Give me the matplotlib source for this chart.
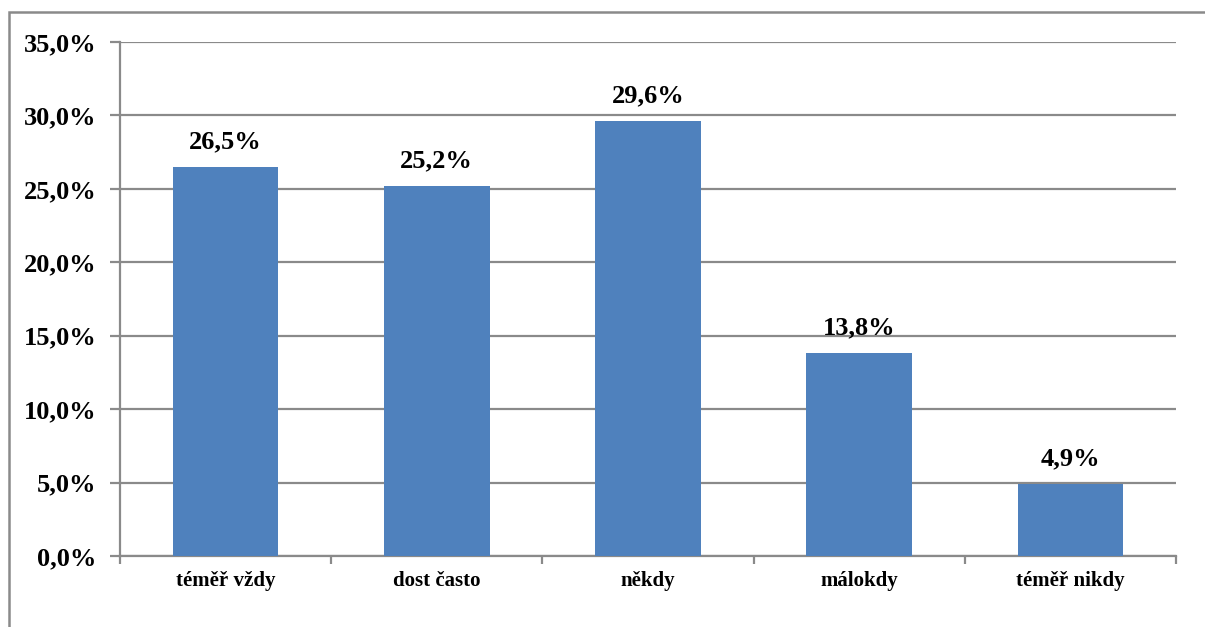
import numpy as np
import matplotlib
matplotlib.use('Agg')
from matplotlib import pyplot as plt
from matplotlib.patches import Rectangle
from matplotlib.ticker import FixedLocator

categories = ['téměř vždy', 'dost často', 'někdy', 'málokdy', 'téměř nikdy']
values = [26.5, 25.2, 29.6, 13.8, 4.9]
y_ticks = [0, 5, 10, 15, 20, 25, 30, 35]

BAR_COLOR = '#4F81BD'
GRID_COLOR = '#8A8A8A'

plt.rcParams['font.family'] = ['Liberation Serif', 'DejaVu Serif']
plt.rcParams['font.weight'] = 'bold'

fig = plt.figure(figsize=(12.05, 6.27), dpi=100)
ax = fig.add_axes([120 / 1205, 1 - 556 / 627, (1176 - 120) / 1205, (556 - 42) / 627])

x = np.arange(len(categories))
bars = ax.bar(x, values, width=0.5, color=BAR_COLOR, zorder=3)

# value labels above each bar
for xi, v in zip(x, values):
    ax.annotate(f'{v:.1f}%'.replace('.', ','), (xi, v), xytext=(0, 10),
                textcoords='offset points', ha='center', va='bottom',
                fontsize=19, fontweight='bold')

ax.set_xlim(-0.5, len(categories) - 0.5)
ax.set_ylim(0, 35)
ax.set_yticks(y_ticks)
ax.set_yticklabels([f'{t:.1f}%'.replace('.', ',') for t in y_ticks])
ax.yaxis.grid(True, color=GRID_COLOR, linewidth=1.6, zorder=0)
ax.set_axisbelow(True)

# tick marks on category boundaries, labels centred under the bars
ax.xaxis.set_major_locator(FixedLocator(np.arange(len(categories) + 1) - 0.5))
ax.set_xticklabels([])
ax.xaxis.set_minor_locator(FixedLocator(x))
ax.set_xticklabels(categories, minor=True)
ax.tick_params(axis='x', which='major', length=6, width=1.6, color=GRID_COLOR, direction='out')
ax.tick_params(axis='x', which='minor', length=0, pad=11, labelsize=15)
ax.tick_params(axis='y', length=7, width=1.6, color=GRID_COLOR, labelsize=19, pad=10)

for side in ('top', 'right'):
    ax.spines[side].set_visible(False)
for side in ('left', 'bottom'):
    ax.spines[side].set_color(GRID_COLOR)
    ax.spines[side].set_linewidth(1.6)

# chart frame
fig.add_artist(Rectangle((9 / 1205, -0.1), 1.2, 1 - 12 / 627 + 0.1,
                         transform=fig.transFigure, fill=False,
                         edgecolor=GRID_COLOR, linewidth=1.8))

fig.savefig('out.png', dpi=100)
